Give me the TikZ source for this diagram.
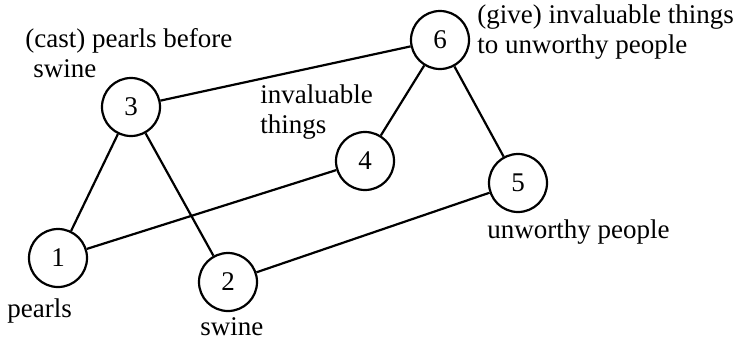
\documentclass[tikz,border=0pt]{standalone}
\usepackage{fontspec}
\setmainfont{Liberation Serif}
\usetikzlibrary{positioning}

\begin{document}
\begin{tikzpicture}[
 x=0.5pt,y=-0.5pt,
 vtx/.style={draw,circle,line width=1.1pt,minimum size=29pt,inner sep=0pt,font=\fontsize{13.5}{15}\selectfont},
 edge/.style={line width=1.1pt},
 lbl/.style={anchor=base west,inner sep=0pt,align=left,font=\fontsize{13.5}{15}\selectfont}
]
\useasboundingbox (0,0) rectangle (737,339);
\node[vtx] (n1) at (58,258) {1};
\node[vtx] (n2) at (228,282) {2};
\node[vtx] (n3) at (131,107) {3};
\node[vtx] (n4) at (365,161) {4};
\node[vtx] (n5) at (518,183) {5};
\node[vtx] (n6) at (440,40) {6};
% two-line labels: base is on the last line
\node[lbl] (cast) at (25,77) {(cast) pearls before\\\hspace*{4pt}swine};
\node[lbl] (inv) at (260,133) {invaluable\\things};
\node[lbl] (give) at (477,53) {(give) invaluable things\\to unworthy people};
\node[lbl] (unw) at (487,238) {unworthy people};
\node[lbl] (pearls) at (7,317) {pearls};
\node[lbl] (swine) at (200,335) {swine};
\draw[edge] (n1) -- (n3);
\draw[edge] (n3) -- (n2);
\draw[edge] (n1) -- (n4);
\draw[edge] (n3) -- (n6);
\draw[edge] (n4) -- (n6);
\draw[edge] (n6) -- (n5);
\draw[edge] (n2) -- (n5);
\end{tikzpicture}
\end{document}
